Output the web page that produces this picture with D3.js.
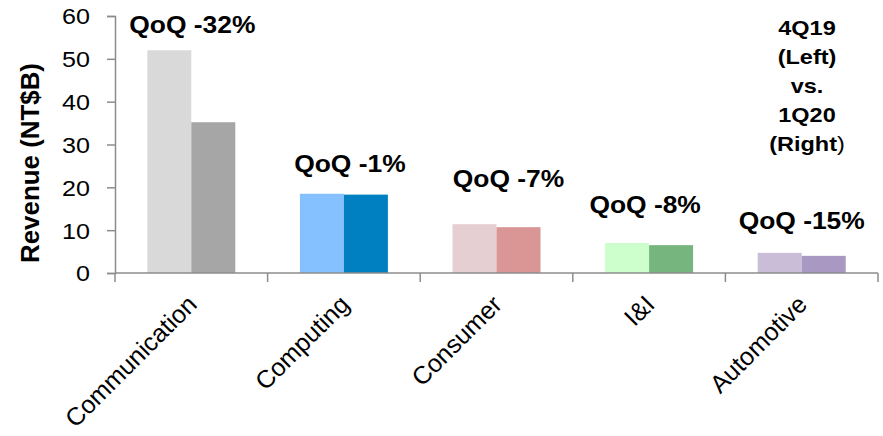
<!DOCTYPE html>
<html>
<head>
<meta charset="utf-8">
<script src="https://cdn.jsdelivr.net/npm/d3@7"></script>
<style>
  html, body { margin: 0; padding: 0; background: #fff; }
  svg { display: block; font-family: "Liberation Sans", Arial, sans-serif; }
</style>
</head>
<body>
<svg id="chart" width="883" height="436"></svg>
<script>
(function () {
// ---- data ----
const categories = ["Communication", "Computing", "Consumer", "I&I", "Automotive"];
const series = ["4Q19", "1Q20"];
const rev4Q19 = [52.0, 18.5, 11.4, 7.0, 4.7];
const rev1Q20 = [35.2, 18.3, 10.7, 6.5, 4.0];
const qoqLabels = ["QoQ -32%", "QoQ -1%", "QoQ -7%", "QoQ -8%", "QoQ -15%"];
const yTicks = [0, 10, 20, 30, 40, 50, 60];
const colors4Q19 = ["#d9d9d9", "#85c1ff", "#e6cfd2", "#ccffcc", "#c9bdd8"];
const colors1Q20 = ["#a6a6a6", "#0080c0", "#d99694", "#77b57f", "#a898c2"];
const noteLines = ["4Q19", "(Left)", "vs.", "1Q20", "(Right"];

// ---- layout ----
const svg = d3.select("#chart");
const mLeft = 115, mRight = 878, mTop = 16, mBottom = 273;
const axisColor = "#8c8c8c";

const y = d3.scaleLinear().domain([0, 60]).range([mBottom, mTop]);
const x0 = d3.scaleBand().domain(categories).range([mLeft, mRight]).padding(0);
const x1 = d3.scaleBand().domain(series).range([0, x0.bandwidth()]).paddingInner(0).paddingOuter(0.734);

const rows = categories.map((c, i) => ({
  cat: c, i,
  vals: [
    { s: "4Q19", v: rev4Q19[i], color: colors4Q19[i] },
    { s: "1Q20", v: rev1Q20[i], color: colors1Q20[i] }
  ]
}));

// bars
const g = svg.append("g");
g.selectAll("g.cat").data(rows).join("g")
  .attr("class", "cat")
  .attr("transform", d => `translate(${x0(d.cat)},0)`)
  .selectAll("rect").data(d => d.vals).join("rect")
  .attr("x", d => x1(d.s))
  .attr("width", x1.bandwidth())
  .attr("y", d => y(d.v))
  .attr("height", d => y(0) - y(d.v))
  .attr("fill", d => d.color);

// y axis
const yAxis = svg.append("g")
  .attr("transform", `translate(${mLeft},0)`)
  .call(d3.axisLeft(y).tickValues(yTicks).tickSize(8).tickPadding(0).tickFormat(d3.format("d")));
yAxis.select(".domain").attr("stroke", axisColor).attr("stroke-width", 1.5);
yAxis.selectAll(".tick line").attr("stroke", axisColor).attr("stroke-width", 1.5);
yAxis.selectAll(".tick text")
  .attr("x", null).attr("dy", "0.36em")
  .attr("transform", "translate(-25,0) scale(1.14,1)")
  .attr("fill", "#000")
  .attr("font-size", 22)
  .attr("font-family", "Liberation Sans, Arial, sans-serif");

// x axis
const xAxis = svg.append("g");
xAxis.append("line")
  .attr("x1", mLeft).attr("x2", mRight)
  .attr("y1", y(0)).attr("y2", y(0))
  .attr("stroke", axisColor).attr("stroke-width", 1.5);
const boundaries = categories.map(c => x0(c)).concat([x0.range()[1]]);
xAxis.selectAll("line.tk").data(boundaries).join("line")
  .attr("class", "tk")
  .attr("x1", d => d).attr("x2", d => d)
  .attr("y1", y(0)).attr("y2", y(0) + 9)
  .attr("stroke", axisColor).attr("stroke-width", 1.5);

// category labels (rotated)
xAxis.selectAll("text.cat").data(categories).join("text")
  .attr("class", "cat")
  .attr("transform", d => `translate(${x0(d) + x0.bandwidth() / 2 + 7},${y(0) + 33}) rotate(-45)`)
  .attr("text-anchor", "end")
  .attr("font-size", 25)
  .attr("fill", "#000")
  .text(d => d);

// y axis title
svg.append("text")
  .attr("transform", `translate(39,163) rotate(-90)`)
  .attr("text-anchor", "middle")
  .attr("font-size", 25)
  .attr("font-weight", "bold")
  .attr("textLength", 200)
  .attr("lengthAdjust", "spacingAndGlyphs")
  .text("Revenue (NT$B)");

// QoQ annotations (layout nudges for each text box)
const qoqLift = [17, 22, 37, 30, 24];
const qoqShift = [1, 6, 12, -4, 0];
svg.selectAll("text.qoq").data(rows).join("text")
  .attr("class", "qoq")
  .attr("transform", d => {
    const cx = x0(d.cat) + x0.bandwidth() / 2 + qoqShift[d.i];
    const cy = y(Math.max(rev4Q19[d.i], rev1Q20[d.i])) - qoqLift[d.i];
    return `translate(${cx},${cy}) scale(1.1,1)`;
  })
  .attr("text-anchor", "middle")
  .attr("font-size", 24)
  .attr("font-weight", "bold")
  .text(d => qoqLabels[d.i]);

// series note
noteLines.forEach((t, i) => {
  const line = svg.append("text")
    .attr("transform", `translate(807,${35 + i * 29}) scale(1.12,1)`)
    .attr("text-anchor", "middle")
    .attr("font-size", 21)
    .attr("font-weight", "bold")
    .text(t);
  if (i === noteLines.length - 1) {
    line.append("tspan").attr("font-weight", "normal").text(")");
  }
});
})();
</script>
</body>
</html>
